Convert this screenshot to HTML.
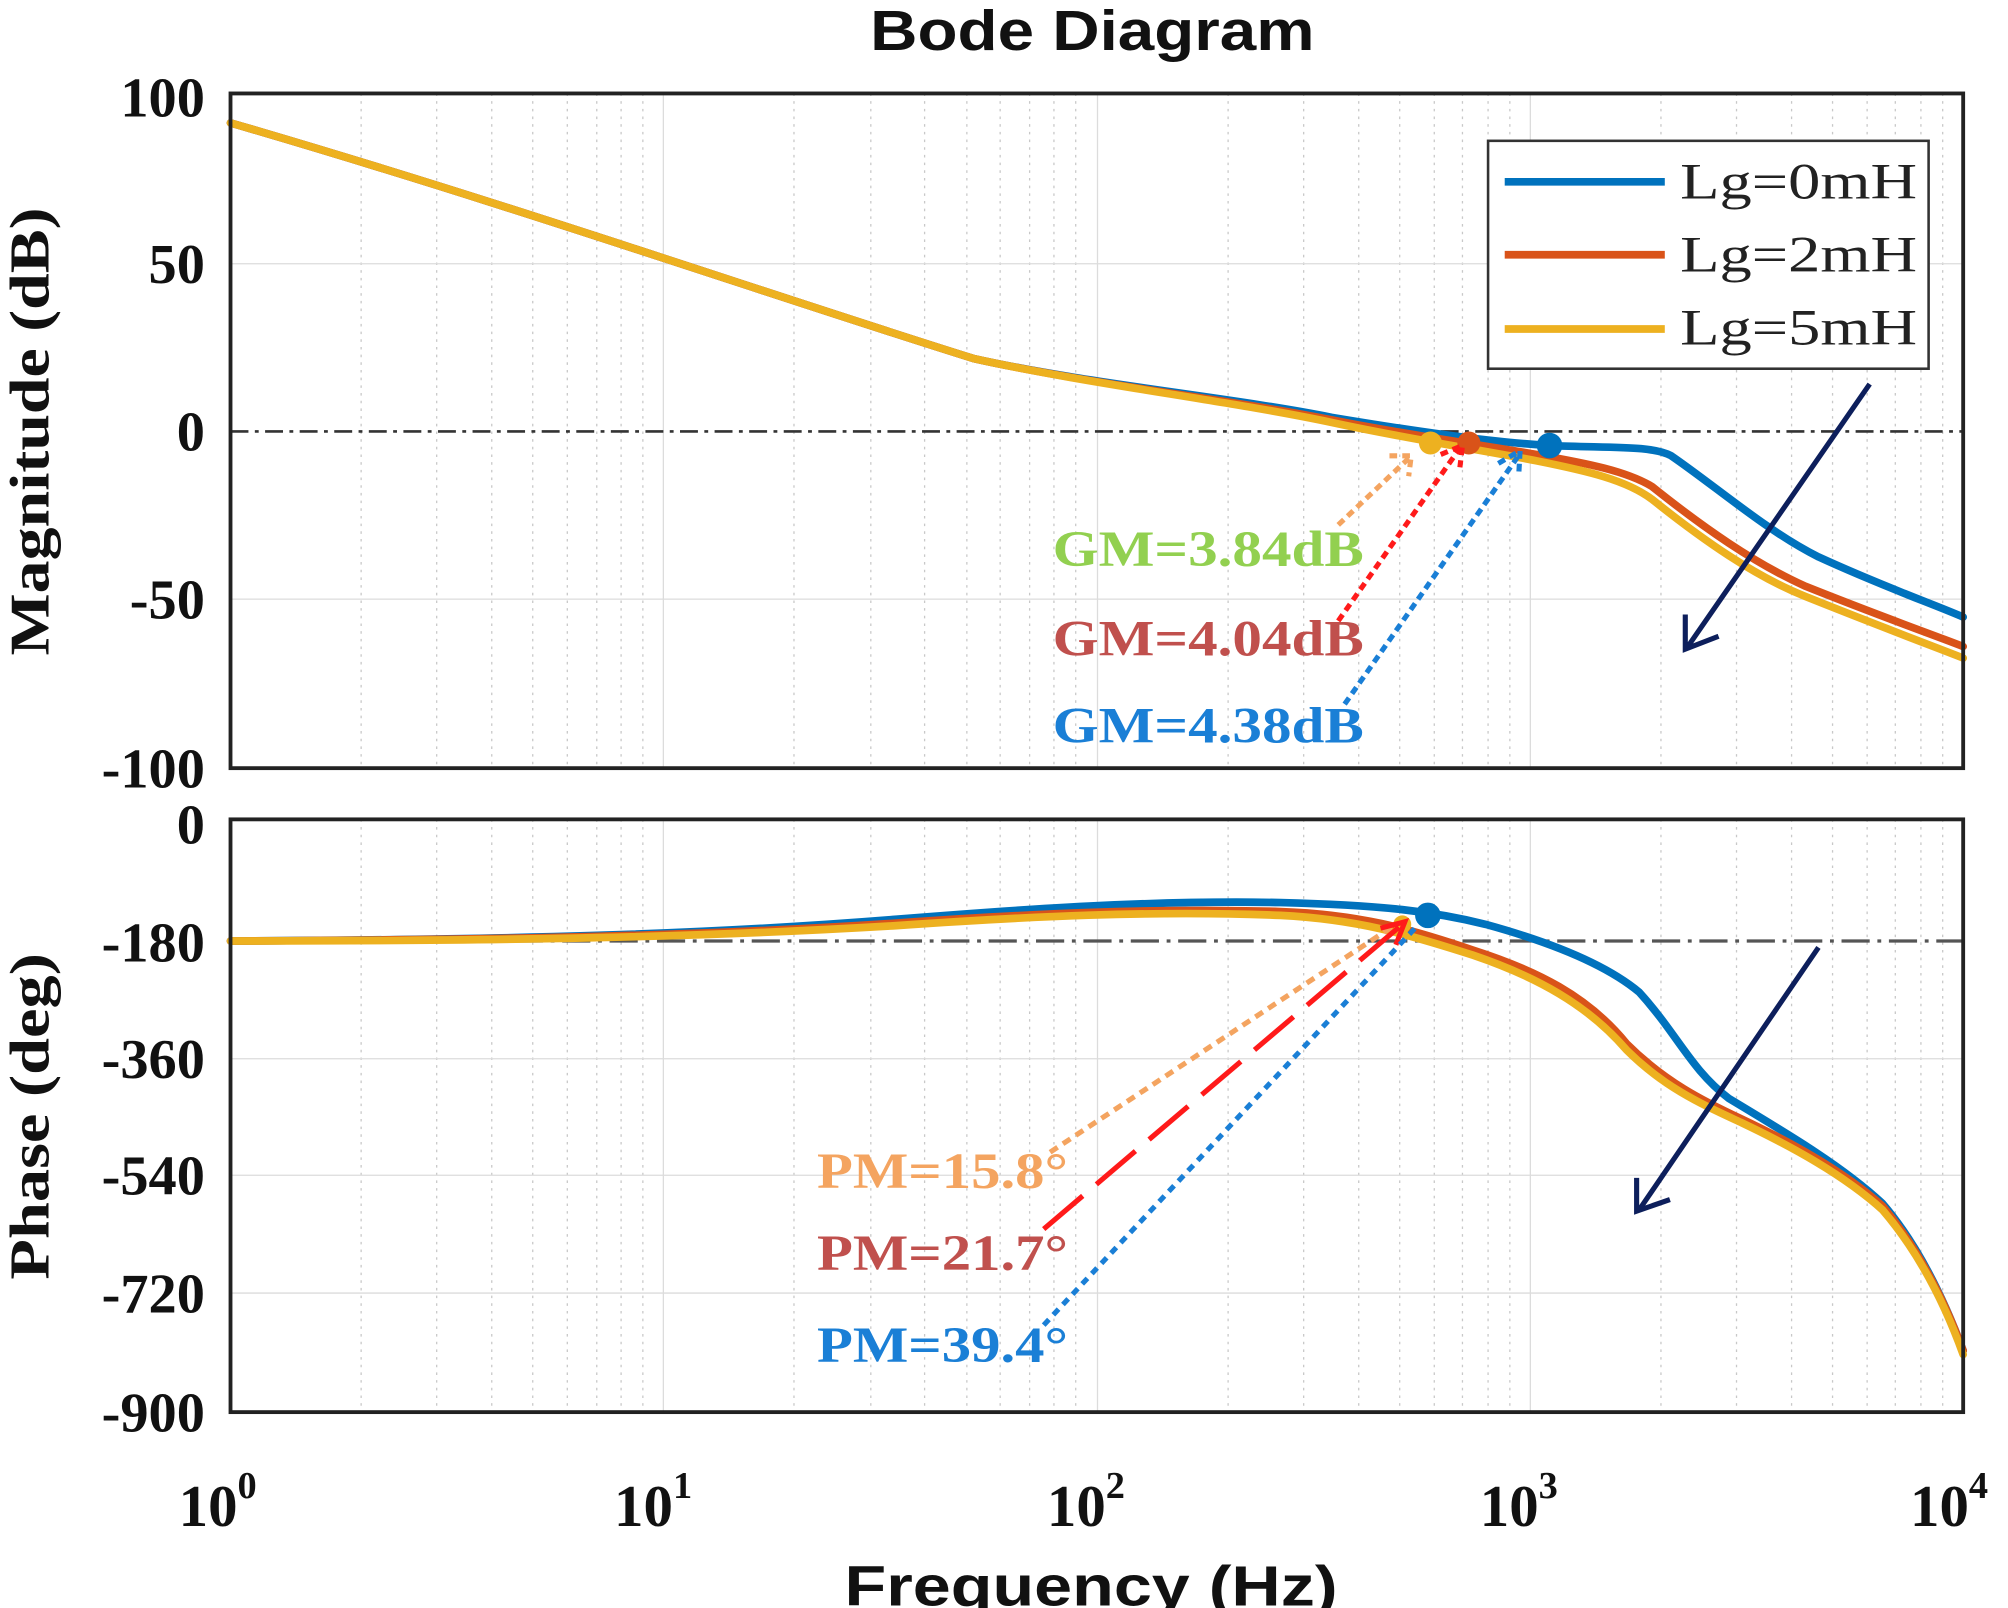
<!DOCTYPE html>
<html><head><meta charset="utf-8"><style>html,body{margin:0;padding:0;background:#fff}svg{display:block}</style></head><body>
<svg width="2008" height="1608" viewBox="0 0 1568 1256" preserveAspectRatio="none" xmlns="http://www.w3.org/2000/svg">
<rect width="1568" height="1256" fill="#fff"/>
<g stroke-width="1">
<g stroke="#c8c8c8" stroke-dasharray="2,4">
<path d="M282,73V600M341,73V600M384,73V600M416,73V600M443,73V600M466,73V600M485,73V600M502,73V600
M620,73V600M680,73V600M722,73V600M755,73V600M781,73V600M804,73V600M823,73V600M840,73V600
M959,73V600M1018,73V600M1061,73V600M1093,73V600M1120,73V600M1142,73V600M1162,73V600M1179,73V600
M1297,73V600M1356,73V600M1399,73V600M1431,73V600M1458,73V600M1480,73V600M1500,73V600M1517,73V600"/>
<path d="M282,640V1103M341,640V1103M384,640V1103M416,640V1103M443,640V1103M466,640V1103M485,640V1103M502,640V1103
M620,640V1103M680,640V1103M722,640V1103M755,640V1103M781,640V1103M804,640V1103M823,640V1103M840,640V1103
M959,640V1103M1018,640V1103M1061,640V1103M1093,640V1103M1120,640V1103M1142,640V1103M1162,640V1103M1179,640V1103
M1297,640V1103M1356,640V1103M1399,640V1103M1431,640V1103M1458,640V1103M1480,640V1103M1500,640V1103M1517,640V1103"/>
</g>
<g stroke="#dcdcdc">
<path d="M518,73V600M857,73V600M1195,73V600M518,640V1103M857,640V1103M1195,640V1103"/>
<path d="M180,206H1533M180,468H1533M180,827H1533M180,918H1533M180,1010H1533"/>
</g>
</g>
<path d="M180,337H1533" stroke="#333" stroke-width="2" stroke-dasharray="14,5,3,5"/>
<path d="M180,735H1533" stroke="#555" stroke-width="2.5" stroke-dasharray="22,6,3,6"/>
<g fill="none" stroke-width="6" stroke-linejoin="round" stroke-linecap="round">
<path stroke="#0072bd" d="M180,96 C400,160 600,230 760,280 C850,300 960,310 1040,326 C1100,336 1160,345 1210,348 C1260,350 1290,348 1305,356 C1340,380 1380,415 1420,435 C1470,458 1510,472 1533,482"/>
<path stroke="#d95319" d="M180,96 C400,160 600,230 760,280 C850,300 960,312 1040,328 C1100,340 1160,348 1200,355 C1240,362 1270,368 1290,380 C1330,412 1370,440 1410,458 C1470,482 1510,496 1533,505"/>
<path stroke="#edb120" d="M180,96 C400,160 600,230 760,280 C850,300 960,313 1040,330 C1100,343 1160,352 1200,360 C1240,368 1270,375 1290,390 C1330,422 1370,450 1410,466 C1470,490 1510,505 1533,514"/>
</g>
<g fill="none" stroke-width="6" stroke-linejoin="round" stroke-linecap="round">
<path stroke="#0072bd" d="M180,735 C400,734 550,730 700,718 C800,710 900,703 1000,705 C1080,707 1120,712 1160,722 C1200,733 1250,750 1280,775 C1310,808 1320,835 1350,858 C1400,888 1440,912 1470,940 C1500,975 1520,1020 1533,1055"/>
<path stroke="#d95319" d="M180,735 C400,734 550,731 700,721 C800,714 900,709 1000,712 C1060,714 1100,725 1150,742 C1200,758 1240,778 1270,815 C1300,845 1330,860 1360,874 C1400,893 1440,915 1470,942 C1500,978 1520,1020 1533,1055"/>
<path stroke="#edb120" d="M180,735 C400,735 550,732 700,723 C800,716 900,711 1000,715 C1060,718 1100,730 1150,746 C1200,763 1240,785 1270,820 C1300,850 1330,863 1360,877 C1400,896 1440,918 1470,945 C1500,980 1520,1022 1533,1058"/>
</g>
<circle cx="1117" cy="346" r="9" fill="#edb120"/>
<circle cx="1147" cy="346" r="9" fill="#d95319"/>
<circle cx="1210" cy="348" r="10" fill="#0072bd"/>
<circle cx="1095" cy="722" r="7" fill="#edb120"/>
<circle cx="1115" cy="715" r="10" fill="#0072bd"/>
<g fill="none" stroke-width="4">
<path d="M1045,410 L1100,358 M1085,356 L1102,356 L1100,372" stroke="#f4a460" stroke-dasharray="6,4"/>
<path d="M1045,485 L1140,350 M1125,355 L1142,348 L1140,365" stroke="#ff1a1a" stroke-dasharray="6,4"/>
<path d="M1050,550 L1185,357 M1170,362 L1187,352 L1186,370" stroke="#1a7fd6" stroke-dasharray="6,4"/>
<path d="M820,900 L1090,722" stroke="#f4a460" stroke-dasharray="7,5"/>
<path d="M815,960 L1095,722 M1078,725 L1097,720 L1090,738" stroke="#ff1a1a" stroke-dasharray="40,14"/>
<path d="M815,1035 L1105,725" stroke="#1a7fd6" stroke-dasharray="6,5"/>
</g>
<g stroke="#0d1f5c" stroke-width="4" fill="none">
<path d="M1460,300 L1318,505 M1316,480 L1316,507 L1342,497"/>
<path d="M1420,740 L1280,945 M1278,920 L1278,946 L1304,937"/>
</g>
<g font-family="Liberation Serif, serif" font-weight="bold" font-size="40" lengthAdjust="spacingAndGlyphs">
<text x="822" y="442" fill="#92d050" textLength="243" lengthAdjust="spacingAndGlyphs">GM=3.84dB</text>
<text x="822" y="512" fill="#c0504d" textLength="243" lengthAdjust="spacingAndGlyphs">GM=4.04dB</text>
<text x="822" y="580" fill="#1a7fd6" textLength="243" lengthAdjust="spacingAndGlyphs">GM=4.38dB</text>
<text x="638" y="928" fill="#f4a460" textLength="196" lengthAdjust="spacingAndGlyphs">PM=15.8°</text>
<text x="638" y="992" fill="#c0504d" textLength="196" lengthAdjust="spacingAndGlyphs">PM=21.7°</text>
<text x="638" y="1064" fill="#1a7fd6" textLength="196" lengthAdjust="spacingAndGlyphs">PM=39.4°</text>
</g>
<rect x="1162" y="110" width="344" height="178" fill="#fff" stroke="#333" stroke-width="2"/>
<g stroke-width="6"><path d="M1175,142H1300" stroke="#0072bd"/><path d="M1175,199H1300" stroke="#d95319"/><path d="M1175,257H1300" stroke="#edb120"/></g>
<g font-family="Liberation Serif, serif" font-size="40" fill="#222">
<text x="1312" y="155" textLength="185" lengthAdjust="spacingAndGlyphs">Lg=0mH</text>
<text x="1312" y="212" textLength="185" lengthAdjust="spacingAndGlyphs">Lg=2mH</text>
<text x="1312" y="269" textLength="185" lengthAdjust="spacingAndGlyphs">Lg=5mH</text>
</g>
<rect x="180" y="73" width="1353" height="527" fill="none" stroke="#222" stroke-width="3"/>
<rect x="180" y="640" width="1353" height="463" fill="none" stroke="#222" stroke-width="3"/>
<g font-family="Liberation Serif, serif" font-weight="bold" font-size="44" fill="#111" text-anchor="end">
<text x="160" y="91">100</text><text x="160" y="221">50</text><text x="160" y="352">0</text>
<text x="160" y="483">-50</text><text x="160" y="615">-100</text>
<text x="160" y="659">0</text><text x="160" y="751">-180</text><text x="160" y="842">-360</text>
<text x="160" y="933">-540</text><text x="160" y="1025">-720</text><text x="160" y="1118">-900</text>
</g>
<g font-family="Liberation Serif, serif" font-weight="bold" font-size="46" fill="#111" text-anchor="middle">
<text x="170" y="1192">10<tspan dy="-22" font-size="30">0</tspan></text>
<text x="510" y="1192">10<tspan dy="-22" font-size="30">1</tspan></text>
<text x="848" y="1192">10<tspan dy="-22" font-size="30">2</tspan></text>
<text x="1186" y="1192">10<tspan dy="-22" font-size="30">3</tspan></text>
<text x="1522" y="1192">10<tspan dy="-22" font-size="30">4</tspan></text>
</g>
<g font-family="Liberation Serif, serif" font-weight="bold" font-size="44" fill="#111" text-anchor="middle">
<text transform="translate(38,337) rotate(-90)" textLength="350" lengthAdjust="spacingAndGlyphs">Magnitude (dB)</text>
<text transform="translate(38,872) rotate(-90)" textLength="255" lengthAdjust="spacingAndGlyphs">Phase (deg)</text>
</g>
<g font-family="Liberation Sans, sans-serif" font-weight="bold" font-size="44" fill="#111" text-anchor="middle">
<text x="853" y="39" textLength="347" lengthAdjust="spacingAndGlyphs">Bode Diagram</text>
<text x="852" y="1254" textLength="385" lengthAdjust="spacingAndGlyphs">Frequency  (Hz)</text>
</g>
</svg>
</body></html>
